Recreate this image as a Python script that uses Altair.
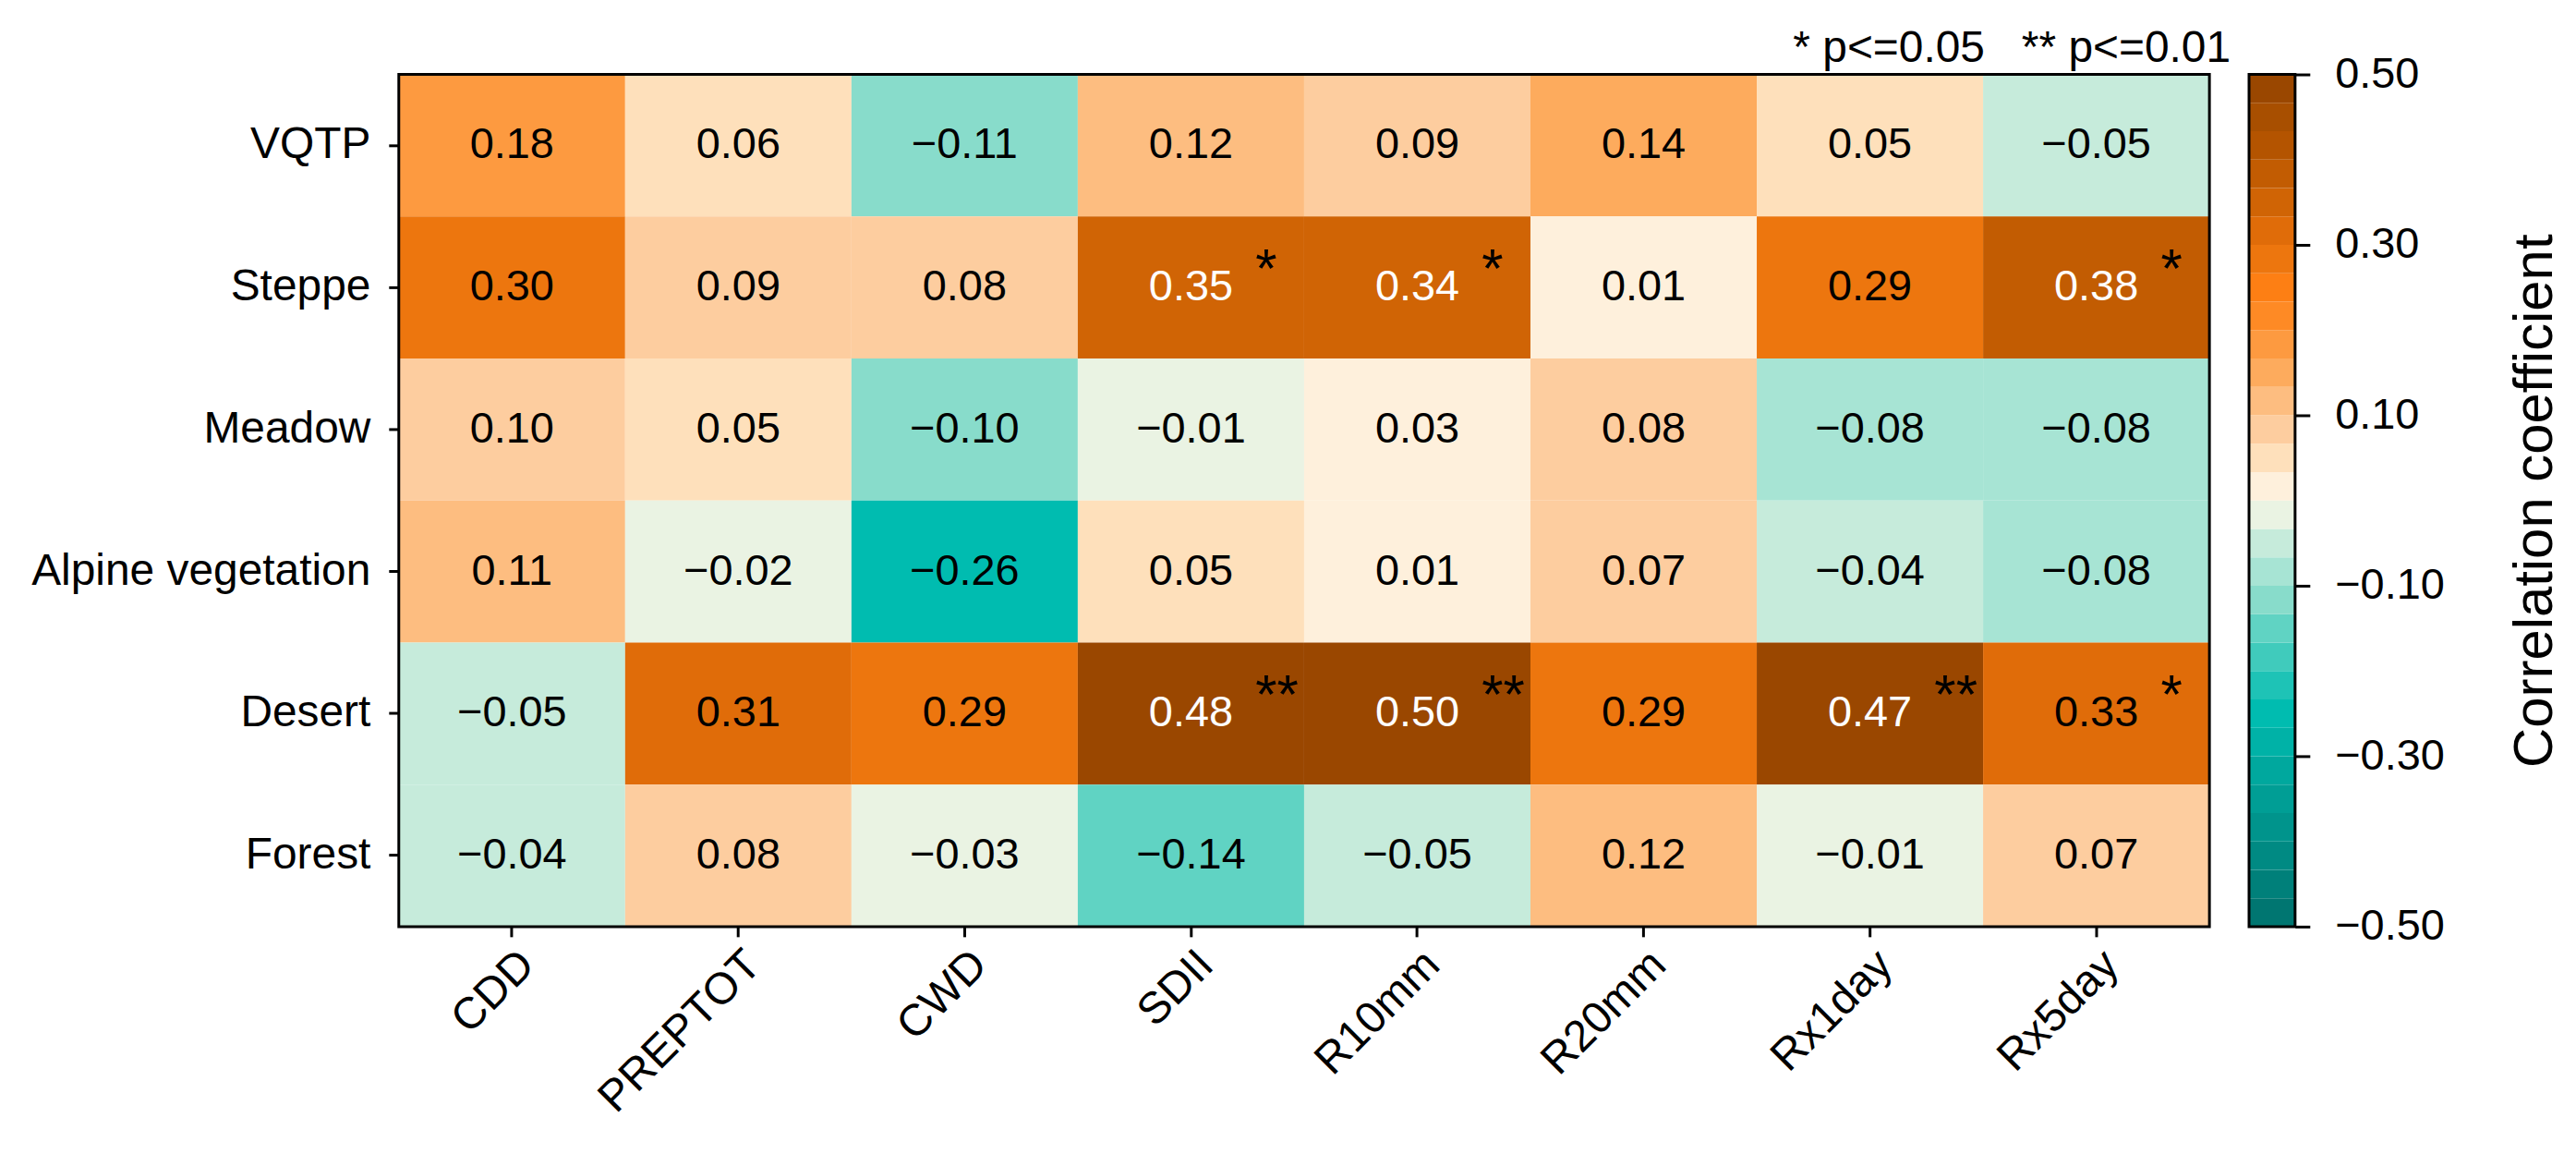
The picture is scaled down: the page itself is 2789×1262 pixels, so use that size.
import altair as alt
import pandas as pd

rows = ["VQTP", "Steppe", "Meadow", "Alpine vegetation\u00a0", "Desert", "Forest"]
cols = ["CDD", "PREPTOT", "CWD", "SDII", "R10mm", "R20mm", "Rx1day", "Rx5day"]

vqtp = [0.18, 0.06, -0.11, 0.12, 0.09, 0.14, 0.05, -0.05]
steppe = [0.30, 0.09, 0.08, 0.35, 0.34, 0.01, 0.29, 0.38]
meadow = [0.10, 0.05, -0.10, -0.01, 0.03, 0.08, -0.08, -0.08]
alpine = [0.11, -0.02, -0.26, 0.05, 0.01, 0.07, -0.04, -0.08]
desert = [-0.05, 0.31, 0.29, 0.48, 0.50, 0.29, 0.47, 0.33]
forest = [-0.04, 0.08, -0.03, -0.14, -0.05, 0.12, -0.01, 0.07]

sig_none = ["", "", "", "", "", "", "", ""]
sig_steppe = ["", "", "", "*", "*", "", "", "*"]
sig_desert = ["", "", "", "**", "**", "", "**", "*"]

values = [vqtp, steppe, meadow, alpine, desert, forest]
sigs = [sig_none, sig_steppe, sig_none, sig_none, sig_desert, sig_none]

# discrete colormap, 30 bins from -0.5 to 0.5
teal = ["#007671", "#00807a", "#008a83", "#00948c", "#009e95", "#00a89e", "#00b2a7",
        "#00bcb0", "#1ec3b6", "#40cbbc", "#60d3c3", "#88dccb", "#a7e4d4", "#c6ebdb", "#eaf3e3"]
orange = ["#fef0dc", "#fee0bb", "#fdcd9f", "#fdbd80", "#fdab5d", "#fd9a40", "#fe8a25",
          "#fd7f14", "#ed760e", "#e06c09", "#d06405", "#c25c02", "#b45400", "#a84f00", "#9a4700"]
colors = teal + orange
nbins = 30
thresholds = [round(k / nbins + 0.0015, 4) for k in range(-14, 15)]

cb_ticks = [0.5, 0.3, 0.1, -0.1, -0.3, -0.5]

recs = []
for r, vals, sg in zip(rows, values, sigs):
    for c, v, s in zip(cols, vals, sg):
        recs.append({"row": r, "col": c, "value": v, "sig": s})
df = pd.DataFrame(recs)

cb = pd.DataFrame({
    "lo": [-0.5 + i / nbins for i in range(nbins)],
    "hi": [-0.5 + (i + 1) / nbins for i in range(nbins)],
    "color": colors,
})

FONT = "Liberation Sans"
W, H = 1966, 925
CBW = 50

xenc = alt.X("col:N", sort=cols, title=None,
             axis=alt.Axis(labelAngle=-45, labelFontSize=48, labelFont=FONT, labelColor="black",
                           tickSize=11, tickWidth=3, tickColor="black", domain=False,
                           labelPadding=6, labelLimit=1000))
yenc = alt.Y("row:N", sort=rows, title=None,
             axis=alt.Axis(labelFontSize=48, labelFont=FONT, labelColor="black",
                           tickSize=11, tickWidth=3, tickColor="black", domain=False,
                           labelPadding=20, labelLimit=1000))

base = alt.Chart(df)
rect = base.mark_rect().encode(
    x=xenc, y=yenc,
    color=alt.Color("value:Q", scale=alt.Scale(type="threshold", domain=thresholds, range=colors),
                    legend=None),
)
text = base.mark_text(fontSize=47, font=FONT).encode(
    x=alt.X("col:N", sort=cols), y=alt.Y("row:N", sort=rows),
    text=alt.Text("value:Q", format=".2f"),
    color=alt.condition("datum.value >= 0.34", alt.value("white"), alt.value("black")),
)
stars = base.mark_text(fontSize=60, font=FONT, align="left", baseline="alphabetic", dx=70, dy=0,
                       color="black").encode(
    x=alt.X("col:N", sort=cols), y=alt.Y("row:N", sort=rows), text="sig:N",
)
note_df = pd.DataFrame({"t": ["* p<=0.05\u00a0\u00a0\u00a0** p<=0.01"]})
note = alt.Chart(note_df).mark_text(
    fontSize=48, font=FONT, align="right", baseline="alphabetic", color="black"
).encode(x=alt.value(W + 23), y=alt.value(-14), text="t:N")
frame = alt.Chart(note_df).mark_rect(filled=False, stroke="black", strokeWidth=3).encode(
    x=alt.value(0), x2=alt.value(W), y=alt.value(0), y2=alt.value(H))

heat = alt.layer(rect, text, stars, note, frame).properties(width=W, height=H)

cbar_rect = alt.Chart(cb).mark_rect().encode(
    y=alt.Y("lo:Q", scale=alt.Scale(domain=[-0.5, 0.5], nice=False, zero=False),
            axis=alt.Axis(orient="right", values=cb_ticks, format=".2f",
                          title="Correlation coefficient", titleFontSize=60, titleFont=FONT,
                          titleFontWeight="normal", titleColor="black", titleAngle=270,
                          titleBaseline="top", titlePadding=70,
                          labelFontSize=47, labelFont=FONT, labelColor="black",
                          tickSize=16, tickWidth=3, tickColor="black", domain=False,
                          labelPadding=27, grid=False)),
    y2="hi:Q",
    color=alt.Color("color:N", scale=None, legend=None),
)
cbar_frame = alt.Chart(note_df).mark_rect(filled=False, stroke="black", strokeWidth=3).encode(
    x=alt.value(0), x2=alt.value(CBW), y=alt.value(0), y2=alt.value(H))
cbar = alt.layer(cbar_rect, cbar_frame).properties(width=CBW, height=H)

chart = alt.hconcat(heat, cbar, spacing=17).resolve_scale(color="independent").properties(
    padding={"left": 25, "top": 18, "right": 5, "bottom": 5}
).configure_view(stroke=None).configure(font=FONT)

chart.save("out.html", embed_options={"renderer": "svg", "actions": False})
